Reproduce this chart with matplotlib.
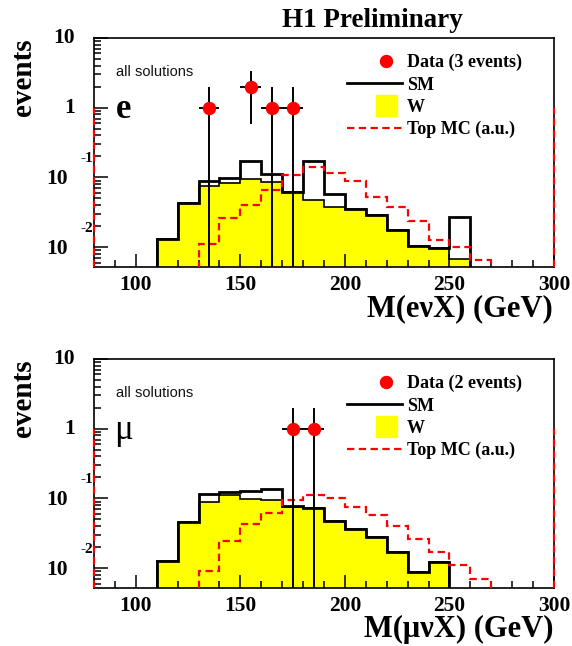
import numpy as np
import matplotlib
matplotlib.use('Agg')
import matplotlib.pyplot as plt
from matplotlib.lines import Line2D
from matplotlib.legend_handler import HandlerLine2D
from matplotlib.ticker import FixedLocator, NullFormatter

# ---- electron channel, M(e nu X) ----
e_sm_edges = [110, 120, 130, 140, 150, 160, 170, 180, 190, 200, 210, 220, 230, 240, 250, 260]
e_sm = [0.0129, 0.0431, 0.0895, 0.0989, 0.170, 0.112, 0.0614, 0.170, 0.0587, 0.0357,
        0.0286, 0.0174, 0.0103, 0.0098, 0.0271]
e_w = [0.0129, 0.0431, 0.075, 0.0838, 0.0935, 0.0875, 0.0614, 0.0471, 0.0377, 0.0357,
       0.0286, 0.0174, 0.0103, 0.0098, 0.0068]
e_top_edges = [130, 140, 150, 160, 170, 180, 190, 200, 210, 220, 230, 240, 250, 260, 270]
e_top = [0.0112, 0.0263, 0.0405, 0.0660, 0.107, 0.141, 0.117, 0.0888, 0.0525, 0.0382,
         0.0236, 0.0126, 0.0100, 0.0065]
e_data_x = [135, 155, 165, 175]
e_data_y = [1, 2, 1, 1]
e_data_err = [1.0, 1.414, 1.0, 1.0]

# ---- muon channel, M(mu nu X) ----
mu_sm_edges = [110, 120, 130, 140, 150, 160, 170, 180, 190, 200, 210, 220, 230, 240, 250]
mu_sm = [0.0125, 0.0455, 0.116, 0.124, 0.126, 0.137, 0.078, 0.074, 0.048, 0.0365,
         0.0283, 0.0168, 0.0087, 0.0123]
mu_w = [0.0125, 0.0455, 0.090, 0.111, 0.097, 0.094, 0.076, 0.073, 0.048, 0.0365,
        0.0283, 0.0168, 0.0087, 0.0123]
mu_top_edges = [130, 140, 150, 160, 170, 180, 190, 200, 210, 220, 230, 240, 250, 260, 270]
mu_top = [0.0091, 0.0248, 0.0425, 0.0628, 0.0936, 0.113, 0.101, 0.0758, 0.0588, 0.0406,
          0.0259, 0.0171, 0.0110, 0.0070]
mu_data_x = [175, 185]
mu_data_y = [1, 1]
mu_data_err = [1.0, 1.0]

top_edge_level = 1.0   # top MC histogram edge lines at the axis limits
bin_half = 5

x_lim = (80, 300)
y_lim = (0.0052, 10)

plt.rcParams['font.family'] = 'Liberation Serif'
plt.rcParams['font.weight'] = 'bold'

W, H = 572, 646
fig = plt.figure(figsize=(W / 100, H / 100), dpi=100)

def pt(p):  # pixels -> points at 100 dpi
    return p * 0.72

def draw_panel(top_px, sm_edges, sm, w, top_edges, top, dx, dy, derr, n_events, lep, xlab):
    ax = fig.add_axes([94 / W, 1 - (top_px + 229) / H, 460 / W, 229 / H])
    ax.set_yscale('log')
    ax.set_xlim(*x_lim)
    ax.set_ylim(*y_lim)

    ax.stairs(w, sm_edges, baseline=1e-4, fill=True, facecolor='#ffff00',
              edgecolor='none', zorder=1)
    ax.stairs(w, sm_edges, baseline=1e-4, color='black', lw=1.2, zorder=2)
    ax.stairs(sm, sm_edges, baseline=1e-4, color='black', lw=2.0, zorder=3)
    red_ls = (0, (3.3, 2.0))
    ax.stairs(top, top_edges, baseline=1e-4, color='#ff0000', lw=1.6,
              linestyle=red_ls, zorder=4)
    ax.vlines(x_lim, y_lim[0], top_edge_level, colors='#ff0000', lw=1.6,
              linestyles=[red_ls], zorder=6, clip_on=False)

    lo = [v - e for v, e in zip(dy, derr)]
    lo = [v if v > 0 else 1e-4 for v in lo]
    yerr = [np.array(dy) - np.array(lo), derr]
    ax.errorbar(dx, dy, xerr=bin_half, yerr=yerr, fmt='none', ecolor='black',
                elinewidth=1.4, capsize=0, zorder=5)
    ax.plot(dx, dy, 'o', color='#ff0000', ms=pt(12), zorder=6)

    for s in ax.spines.values():
        s.set_linewidth(1.2)

    ax.xaxis.set_major_locator(FixedLocator([100, 150, 200, 250, 300]))
    ax.xaxis.set_minor_locator(FixedLocator(list(range(90, 300, 10))))
    ax.tick_params(axis='x', which='major', direction='in', length=pt(13), width=1.1,
                   labelsize=15.5, pad=6, top=False)
    ax.tick_params(axis='x', which='minor', direction='in', length=pt(7), width=1.1, top=False)
    ax.yaxis.set_major_locator(FixedLocator([0.01, 0.1, 1, 10]))
    minors = [m * 10.0 ** k for k in (-3, -2, -1, 0) for m in range(2, 10)]
    ax.yaxis.set_minor_locator(FixedLocator(minors))
    ax.yaxis.set_major_formatter(NullFormatter())
    ax.yaxis.set_minor_formatter(NullFormatter())
    ax.tick_params(axis='y', which='major', direction='in', length=pt(14), width=1.1, right=False)
    ax.tick_params(axis='y', which='minor', direction='in', length=pt(7), width=1.1, right=False)
    for lab in ax.get_xticklabels():
        lab.set_fontweight('bold')

    # ROOT-style y labels
    for val, txt in [(10, '10'), (1, '1')]:
        ax.annotate(txt, xy=(0, val), xycoords=('axes fraction', 'data'),
                    xytext=(pt(-19), 0), textcoords='offset points',
                    ha='right', va='center', fontsize=15.5, annotation_clip=False)
    for val, ex in [(0.1, '-1'), (0.01, '-2')]:
        ax.annotate('10', xy=(0, val), xycoords=('axes fraction', 'data'),
                    xytext=(pt(-26), pt(-1.5)), textcoords='offset points',
                    ha='right', va='center', fontsize=15.5, annotation_clip=False)
        ax.annotate(ex, xy=(0, val), xycoords=('axes fraction', 'data'),
                    xytext=(pt(-1), pt(18.5)), textcoords='offset points',
                    ha='right', va='center', fontsize=11, annotation_clip=False)

    # legend
    h_data = Line2D([], [], ls='none', marker='o', color='#ff0000', ms=pt(12))
    h_sm = Line2D([], [], color='black', lw=2.0)
    h_w = Line2D([], [], ls='none', marker='s', mfc='#ffff00', mec='#ffff00', ms=pt(21))
    h_top = Line2D([], [], color='#ff0000', lw=1.6, ls=(0, (3.3, 2.0)))
    fs = 13
    shift = 2 * pt(11.5) / fs
    ax.legend([h_data, h_sm, h_w, h_top],
              ['Data (%d events)' % n_events, 'SM', 'W', 'Top MC (a.u.)'],
              loc='upper left', bbox_to_anchor=(347 / W, 1 - (top_px + 16) / H),
              bbox_transform=fig.transFigure, frameon=False, fontsize=fs,
              borderpad=0, borderaxespad=0, handlelength=pt(55) / fs,
              handletextpad=pt(5) / fs, labelspacing=0.29,
              handler_map={h_data: HandlerLine2D(xpad=shift),
                           h_w: HandlerLine2D(xpad=shift)})

    fig.text(116 / W, 1 - (top_px + 34) / H, 'all solutions', family='Liberation Sans',
             fontweight='normal', fontsize=10.5, va='center', color='#111111')
    if lep == 'e':
        fig.text(116 / W, 1 - (top_px + 80) / H, 'e', fontsize=25, va='baseline')
    else:
        fig.text(114 / W, 1 - (top_px + 80) / H, 'μ', fontsize=25, fontweight='normal',
                 va='baseline')
    fig.text(23 / W, 1 - top_px / H, 'events', rotation=90, ha='center', va='top',
             fontsize=21)
    fig.text(553 / W, 1 - (top_px + 278) / H, xlab, ha='right', va='baseline', fontsize=22)
    return ax

fig.text(372 / W, 1 - 27 / H, 'H1 Preliminary', ha='center', va='baseline', fontsize=19.5)

draw_panel(38, e_sm_edges, e_sm, e_w, e_top_edges, e_top, e_data_x, e_data_y,
           e_data_err, 3, 'e', 'M(eνX) (GeV)')
draw_panel(359, mu_sm_edges, mu_sm, mu_w, mu_top_edges, mu_top, mu_data_x, mu_data_y,
           mu_data_err, 2, 'mu', 'M(μνX) (GeV)')

fig.savefig('out.png', dpi=100)
